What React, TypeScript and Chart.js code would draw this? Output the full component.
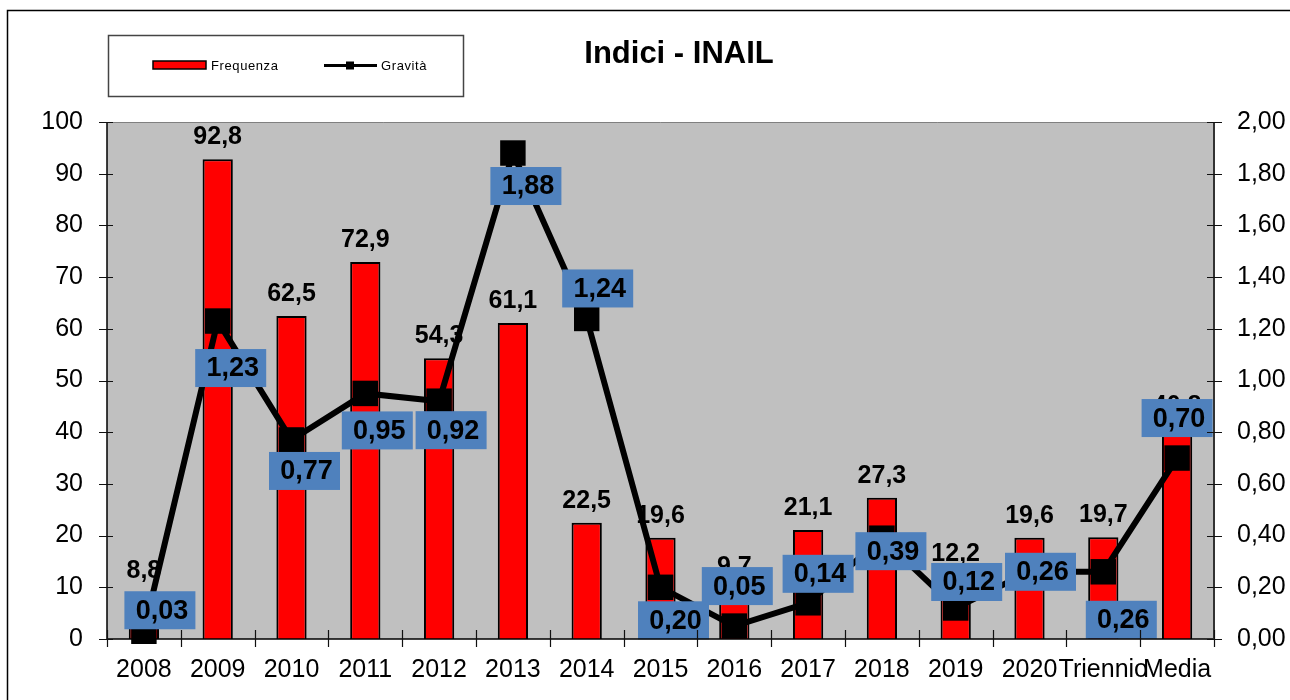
import { useEffect, useRef } from "react";
import { Chart, registerables } from "chart.js";

Chart.register(...registerables);

const categories = ["2008", "2009", "2010", "2011", "2012", "2013", "2014", "2015", "2016", "2017", "2018", "2019", "2020", "Triennio", "Media"];
const frequenza = [8.8, 92.8, 62.5, 72.9, 54.3, 61.1, 22.5, 19.6, 9.7, 21.1, 27.3, 12.2, 19.6, 19.7, 40.8];
const gravita = [0.03, 1.23, 0.77, 0.95, 0.92, 1.88, 1.24, 0.2, 0.05, 0.14, 0.39, 0.12, 0.26, 0.26, 0.7];
const leftAxisMax = 100;
const leftAxisStep = 10;
const rightAxisMax = 2;
const rightAxisStep = 0.2;
const chartTitle = "Indici - INAIL";
const seriesNames = ["Frequenza", "Gravità"];

// label placement offsets (presentation only)
const gravLabelOffsets = [
  [16, -21], [13, 47], [13, 31], [12, 37], [12, 29], [13, 33], [11, -30], [13, 33],
  [3, -40], [10, -29], [9, 13], [11, -26], [11, 0], [18, 48], [0, -40],
];

const FONT = "'Liberation Sans', Arial, sans-serif";

const fmt1 = (v: number) => v.toFixed(1).replace(".", ",");
const fmt2 = (v: number) => v.toFixed(2).replace(".", ",");

const decorPlugin = {
  id: "decor",
  beforeDraw(chart: any) {
    const { ctx, chartArea: a } = chart;
    ctx.save();
    ctx.fillStyle = "#ffffff";
    ctx.fillRect(0, 0, chart.width, chart.height);
    ctx.fillStyle = "#c0c0c0";
    ctx.fillRect(a.left, a.top, a.right - a.left, a.bottom - a.top);
    ctx.restore();
  },
  afterDatasetDraw(chart: any, args: any) {
    if (args.index !== 0) return;
    const { ctx } = chart;
    const meta = chart.getDatasetMeta(0);
    ctx.save();
    ctx.font = `bold 25px ${FONT}`;
    ctx.fillStyle = "#000";
    ctx.textAlign = "center";
    ctx.textBaseline = "middle";
    meta.data.forEach((el: any, i: number) => {
      ctx.fillText(fmt1(frequenza[i]), el.x, el.y - 22);
    });
    ctx.restore();
  },
  afterDatasetsDraw(chart: any) {
    const { ctx, chartArea: a } = chart;
    const meta = chart.getDatasetMeta(1);
    ctx.save();
    ctx.font = `bold 27px ${FONT}`;
    ctx.textAlign = "center";
    ctx.textBaseline = "middle";
    meta.data.forEach((el: any, i: number) => {
      const [dx, dy] = gravLabelOffsets[i];
      const cx = el.x + dx;
      const cy = el.y + dy;
      const w = 71;
      const h = 38;
      ctx.fillStyle = "#4f81bd";
      ctx.fillRect(cx - w / 2, cy - h / 2, w, h);
      ctx.fillStyle = "#000";
      ctx.fillText(fmt2(gravita[i]), cx + 2, cy + 1);
    });
    ctx.restore();

    // frame and axes
    ctx.save();
    ctx.strokeStyle = "#808080";
    ctx.lineWidth = 1;
    ctx.beginPath();
    ctx.moveTo(a.left, a.top + 0.5);
    ctx.lineTo(a.right, a.top + 0.5);
    ctx.stroke();
    ctx.strokeStyle = "#000";
    ctx.lineWidth = 1.5;
    ctx.beginPath();
    ctx.moveTo(a.left, a.top);
    ctx.lineTo(a.left, a.bottom);
    ctx.lineTo(a.right, a.bottom);
    ctx.stroke();
    ctx.strokeStyle = "#333";
    ctx.lineWidth = 2;
    ctx.beginPath();
    ctx.moveTo(a.right, a.top);
    ctx.lineTo(a.right, a.bottom);
    ctx.stroke();

    // ticks
    ctx.strokeStyle = "#111";
    ctx.lineWidth = 1.2;
    const yS = chart.scales.y;
    const y1S = chart.scales.y1;
    ctx.beginPath();
    yS.ticks.forEach((t: any) => {
      const py = Math.round(yS.getPixelForValue(t.value)) + 0.5;
      ctx.moveTo(a.left - 8, py);
      ctx.lineTo(a.left + 6, py);
    });
    y1S.ticks.forEach((t: any) => {
      const py = Math.round(y1S.getPixelForValue(t.value)) + 0.5;
      ctx.moveTo(a.right - 7, py);
      ctx.lineTo(a.right + 8, py);
    });
    const n = categories.length;
    const cw = (a.right - a.left) / n;
    for (let i = 0; i <= n; i++) {
      const px = Math.round(a.left + i * cw) + 0.5;
      ctx.moveTo(px, a.bottom - 9);
      ctx.lineTo(px, a.bottom + 8);
    }
    ctx.stroke();
    ctx.restore();
  },
  afterDraw(chart: any) {
    const { ctx } = chart;
    ctx.save();
    // outer border
    ctx.strokeStyle = "#000";
    ctx.lineWidth = 1.5;
    ctx.beginPath();
    ctx.moveTo(7.5, chart.height);
    ctx.lineTo(7.5, 10.5);
    ctx.lineTo(chart.width, 10.5);
    ctx.stroke();

    // title
    ctx.fillStyle = "#000";
    ctx.font = `bold 31px ${FONT}`;
    ctx.textAlign = "center";
    ctx.textBaseline = "middle";
    ctx.fillText(chartTitle, 679, 54);

    // legend box
    ctx.fillStyle = "#fff";
    ctx.fillRect(108.5, 35.5, 355, 61);
    ctx.strokeStyle = "#444";
    ctx.lineWidth = 1.5;
    ctx.strokeRect(108.5, 35.5, 355, 61);

    // Frequenza swatch
    ctx.fillStyle = "#ff0000";
    ctx.fillRect(153, 61, 53, 8);
    ctx.strokeStyle = "#000";
    ctx.lineWidth = 1.5;
    ctx.strokeRect(153, 61, 53, 8);
    ctx.fillStyle = "#000";
    ctx.font = `13px ${FONT}`;
    (ctx as any).letterSpacing = "0.6px";
    ctx.textAlign = "left";
    ctx.textBaseline = "middle";
    ctx.fillText(seriesNames[0], 211, 66);

    // Gravità swatch
    ctx.strokeStyle = "#000";
    ctx.lineWidth = 3;
    ctx.beginPath();
    ctx.moveTo(324, 65.5);
    ctx.lineTo(377, 65.5);
    ctx.stroke();
    ctx.fillRect(346, 61.5, 8, 8);
    ctx.fillText(seriesNames[1], 381, 66);
    ctx.restore();
  },
};

export default function App() {
  const ref = useRef<HTMLCanvasElement>(null);

  useEffect(() => {
    if (!ref.current) return;
    const chart = new Chart(ref.current, {
      type: "bar",
      data: {
        labels: categories,
        datasets: [
          {
            type: "bar",
            label: seriesNames[0],
            data: frequenza,
            backgroundColor: "#ff0000",
            borderColor: "#000",
            borderWidth: 2,
            yAxisID: "y",
            barPercentage: 0.41,
            categoryPercentage: 1,
            order: 1,
          },
          {
            type: "line",
            label: seriesNames[1],
            data: gravita,
            borderColor: "#000",
            borderWidth: 6,
            backgroundColor: "#000",
            pointStyle: "rect",
            pointRadius: 18,
            pointBackgroundColor: "#000",
            pointBorderColor: "#000",
            pointBorderWidth: 0,
            tension: 0,
            yAxisID: "y1",
            order: 0,
            clip: false,
          } as any,
        ],
      },
      options: {
        responsive: false,
        animation: false,
        events: [],
        layout: { padding: { top: 122, left: 0, right: 0, bottom: 0 } },
        plugins: {
          legend: { display: false },
          title: { display: false },
          tooltip: { enabled: false },
        },
        scales: {
          x: {
            type: "category",
            offset: true,
            grid: { display: false, drawTicks: false, offset: true },
            border: { display: false },
            ticks: {
              autoSkip: false,
              maxRotation: 0,
              minRotation: 0,
              padding: 16,
              color: "#000",
              font: { family: FONT, size: 25 },
            },
            afterFit: (s: any) => {
              s.height = 61;
            },
          },
          y: {
            position: "left",
            min: 0,
            max: leftAxisMax,
            grid: { display: false, drawTicks: false },
            border: { display: false },
            ticks: {
              stepSize: leftAxisStep,
              padding: 24,
              color: "#000",
              font: { family: FONT, size: 25 },
              callback: (v: any) => String(v),
            },
            afterFit: (s: any) => {
              s.width = 107;
            },
          },
          y1: {
            position: "right",
            min: 0,
            max: rightAxisMax,
            grid: { display: false, drawTicks: false },
            border: { display: false },
            ticks: {
              stepSize: rightAxisStep,
              padding: 23,
              color: "#000",
              font: { family: FONT, size: 25 },
              callback: (v: any) => fmt2(Number(v)),
            },
            afterFit: (s: any) => {
              s.width = 76;
            },
          },
        },
      },
      plugins: [decorPlugin as any],
    });
    return () => chart.destroy();
  }, []);

  return (
    <div style={{ position: "fixed", left: 0, top: 0, width: 1290, height: 700, background: "#fff" }}>
      <canvas ref={ref} width={1290} height={700} style={{ display: "block", width: 1290, height: 700 }} />
    </div>
  );
}
